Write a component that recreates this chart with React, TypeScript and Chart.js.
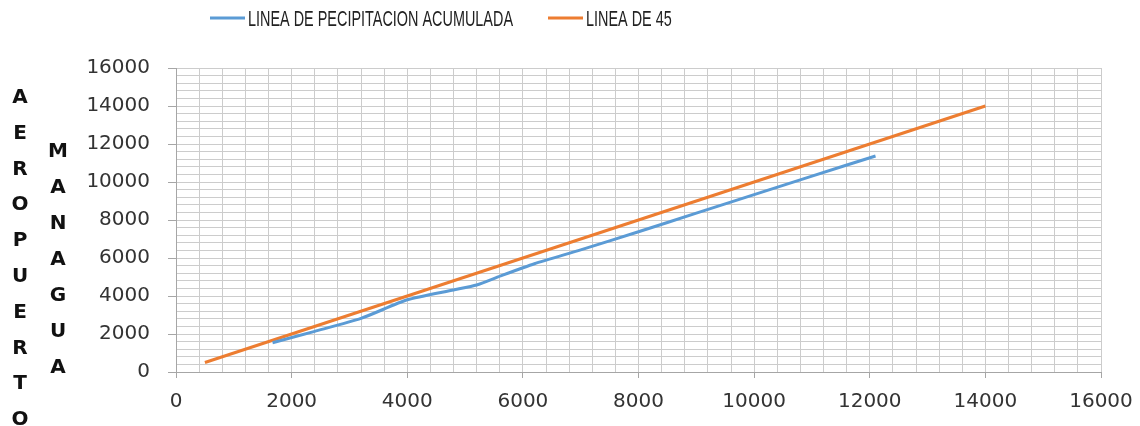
import React, { useEffect, useRef } from 'react';
import { Chart, registerables } from 'chart.js';

Chart.register(...registerables);

// ---- data ----
const BLUE_X = [1670, 2400, 3200, 4000, 4800, 5200, 5650, 6200, 7000, 8000, 9000, 10000, 11000, 12100];
const BLUE_Y = [1540, 2140, 2820, 3800, 4320, 4580, 5100, 5700, 6430, 7380, 8360, 9335, 10310, 11370];
const ORANGE_X = [500, 14000];
const ORANGE_Y = [500, 14000];
const AXIS_MIN = 0;
const AXIS_MAX = 16000;
const MINOR_STEP = 400;
const MAJOR_STEP = 2000;
const LEGEND_LABELS = ['LINEA DE PECIPITACION ACUMULADA', 'LINEA DE 45'];
const TITLE_OUTER = 'AEROPUERTO';
const TITLE_INNER = 'MANAGUA';

const BLUE = '#5B9BD5';
const ORANGE = '#ED7D31';
const GRID = '#cccccc';
const AXIS = '#a6a6a6';
const TEXT = '#333333';

const overlayPlugin = {
  id: 'overlay',
  afterDraw(chart: any) {
    const ctx = chart.ctx as CanvasRenderingContext2D;
    ctx.save();
    // vertical stacked titles
    ctx.font = 'bold 20px "DejaVu Sans", sans-serif';
    ctx.fillStyle = '#111111';
    ctx.textAlign = 'center';
    ctx.textBaseline = 'alphabetic';
    TITLE_OUTER.split('').forEach((ch, i) => {
      ctx.fillText(ch, 20, 96 + i * 35.8 + 7);
    });
    TITLE_INNER.split('').forEach((ch, i) => {
      ctx.fillText(ch, 58, 150 + i * 36 + 7);
    });
    // legend
    ctx.font = '22px "Liberation Sans Narrow", "Liberation Sans", sans-serif';
    const w0 = ctx.measureText(LEGEND_LABELS[0]).width;
    const sx = Math.min(1.2, 265 / w0);
    const starts = [210, 548];
    chart.data.datasets.forEach((ds: any, i: number) => {
      const x0 = starts[i];
      ctx.strokeStyle = ds.borderColor;
      ctx.lineWidth = 3;
      ctx.beginPath();
      ctx.moveTo(x0, 18);
      ctx.lineTo(x0 + 35, 18);
      ctx.stroke();
      ctx.save();
      ctx.translate(x0 + 38, 26);
      ctx.scale(sx, 1);
      ctx.fillStyle = '#222222';
      ctx.textAlign = 'left';
      ctx.fillText(LEGEND_LABELS[i], 0, 0);
      ctx.restore();
    });
    ctx.restore();
  },
};

const isMajor = (v: number) => Math.round(v) % MAJOR_STEP === 0;

export default function App() {
  const ref = useRef<HTMLCanvasElement | null>(null);
  useEffect(() => {
    if (!ref.current) return;
    const tickFont = { family: '"DejaVu Sans", sans-serif', size: 20 };
    const chart = new Chart(ref.current, {
      type: 'line',
      data: {
        datasets: [
          {
            label: LEGEND_LABELS[0],
            data: BLUE_X.map((x, i) => ({ x, y: BLUE_Y[i] })),
            borderColor: BLUE,
            backgroundColor: BLUE,
            borderWidth: 3,
            pointRadius: 0,
            tension: 0.2,
          },
          {
            label: LEGEND_LABELS[1],
            data: ORANGE_X.map((x, i) => ({ x, y: ORANGE_Y[i] })),
            borderColor: ORANGE,
            backgroundColor: ORANGE,
            borderWidth: 3,
            pointRadius: 0,
          },
        ],
      },
      options: {
        animation: false,
        responsive: false,
        devicePixelRatio: 1,
        layout: { padding: { top: 68, right: 39, left: 0, bottom: 0 } },
        plugins: { legend: { display: false }, tooltip: { enabled: false } },
        scales: {
          x: {
            type: 'linear',
            min: AXIS_MIN,
            max: AXIS_MAX,
            afterFit: (s: any) => { s.height = 54; s.paddingRight = 0; s.paddingLeft = 0; },
            ticks: {
              stepSize: MINOR_STEP,
              autoSkip: false,
              maxRotation: 0,
              padding: 12,
              color: TEXT,
              font: tickFont,
              callback: (v: any) => (isMajor(Number(v)) ? String(v) : ''),
            },
            grid: {
              color: GRID,
              lineWidth: 1,
              tickLength: 6,
              tickColor: (c: any) => (c.tick && isMajor(c.tick.value) ? AXIS : 'rgba(0,0,0,0)'),
            },
            border: { color: AXIS, width: 1 },
          },
          y: {
            type: 'linear',
            min: AXIS_MIN,
            max: AXIS_MAX,
            afterFit: (s: any) => { s.width = 176; s.paddingTop = 0; s.paddingBottom = 0; },
            ticks: {
              stepSize: MINOR_STEP,
              autoSkip: false,
              padding: 18,
              color: TEXT,
              font: tickFont,
              callback: (v: any) => (isMajor(Number(v)) ? String(v) : ''),
            },
            grid: {
              color: GRID,
              lineWidth: 1,
              tickLength: 8,
              tickColor: (c: any) => (c.tick && isMajor(c.tick.value) ? AXIS : 'rgba(0,0,0,0)'),
            },
            border: { color: AXIS, width: 1 },
          },
        },
      },
      plugins: [overlayPlugin],
    } as any);
    return () => chart.destroy();
  }, []);
  return (
    <div style={{ position: 'fixed', left: 0, top: 0, width: 1140, height: 426, background: '#fff' }}>
      <canvas ref={ref} width={1140} height={426} style={{ display: 'block' }} />
    </div>
  );
}
